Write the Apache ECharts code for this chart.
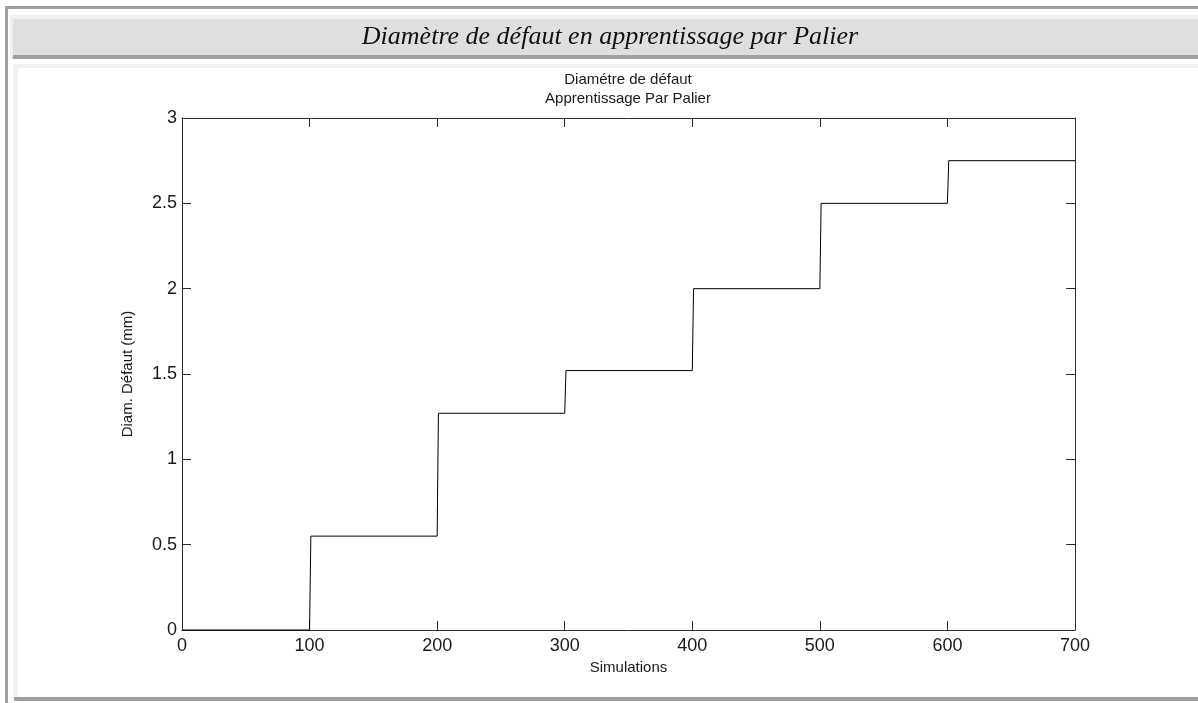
<!DOCTYPE html>
<html>
<head>
<meta charset="utf-8">
<script src="https://cdn.jsdelivr.net/npm/echarts@6/dist/echarts.min.js"></script>
<style>
  html, body { margin: 0; padding: 0; background: #ffffff; }
  #chart { width: 1198px; height: 703px; }
</style>
</head>
<body>
<div id="chart"></div>
<script>
// Simulation index at which each plateau begins, and the defect diameter (mm) of that plateau
const stepStarts = [0, 100, 200, 300, 400, 500, 600];
const stepLevels = [0, 0.55, 1.27, 1.52, 2.0, 2.5, 2.75];
const lastSimulation = 700;

// Axis ticks
const xTicks = [0, 100, 200, 300, 400, 500, 600, 700];
const yTicks = [0, 0.5, 1, 1.5, 2, 2.5, 3];

const headerTitle = 'Diamètre de défaut en apprentissage par Palier';
const plotTitle = 'Diamétre de défaut\nApprentissage Par Palier';
const xName = 'Simulations';
const yName = 'Diam. Défaut (mm)';

// Plateau polyline: each level holds from the simulation after its start up to the next start
const points = [];
stepStarts.forEach((s, i) => {
  const end = i + 1 < stepStarts.length ? stepStarts[i + 1] : lastSimulation;
  points.push([i === 0 ? s : s + 1, stepLevels[i]]);
  points.push([end, stepLevels[i]]);
});

const axisColor = '#2b2b2b';
const sans = '"Liberation Sans", Arial, sans-serif';
const labelFont = { color: '#1a1a1a', fontFamily: sans, fontSize: 18 };
const nameFont = { color: '#1a1a1a', fontFamily: sans, fontSize: 15 };

const xMin = xTicks[0], xMax = xTicks[xTicks.length - 1], xStep = xTicks[1] - xTicks[0];
const yMin = yTicks[0], yMax = yTicks[yTicks.length - 1], yStep = yTicks[1] - yTicks[0];

function boxAxis(extra) {
  return Object.assign({
    type: 'value',
    axisLine: { show: true, onZero: false, lineStyle: { color: axisColor, width: 1 } },
    axisTick: { show: true, inside: true, length: 9, lineStyle: { color: axisColor, width: 1 } },
    splitLine: { show: false }
  }, extra);
}

const chart = echarts.init(document.getElementById('chart'), null, { renderer: 'canvas' });
chart.setOption({
  animation: false,
  backgroundColor: '#ffffff',
  graphic: [
    // page frame
    { type: 'rect', shape: { x: 5, y: 6, width: 1193, height: 3 }, style: { fill: '#a0a0a0' }, silent: true },
    { type: 'rect', shape: { x: 5, y: 6, width: 3, height: 697 }, style: { fill: '#a0a0a0' }, silent: true },
    { type: 'rect', shape: { x: 10, y: 15, width: 1188, height: 4 }, style: { fill: '#f0f0f0' }, silent: true },
    { type: 'rect', shape: { x: 10, y: 15, width: 3, height: 44 }, style: { fill: '#f0f0f0' }, silent: true },
    { type: 'rect', shape: { x: 13, y: 19, width: 1185, height: 36 }, style: { fill: '#dfdfdf' }, silent: true },
    { type: 'rect', shape: { x: 13, y: 55, width: 1185, height: 4 }, style: { fill: '#a0a0a0' }, silent: true },
    { type: 'rect', shape: { x: 13, y: 64, width: 1185, height: 4 }, style: { fill: '#f0f0f0' }, silent: true },
    { type: 'rect', shape: { x: 13, y: 64, width: 5, height: 633 }, style: { fill: '#f0f0f0' }, silent: true },
    { type: 'rect', shape: { x: 14, y: 697, width: 1184, height: 4 }, style: { fill: '#a0a0a0' }, silent: true },
    // header caption
    {
      type: 'text', x: 610, y: 37, silent: true,
      style: {
        text: headerTitle, textAlign: 'center', textVerticalAlign: 'middle',
        fill: '#111111', font: 'italic 26px "Liberation Serif", "DejaVu Serif", serif'
      }
    },
    // plot title
    {
      type: 'text', x: 628, y: 89, silent: true,
      style: {
        text: plotTitle, textAlign: 'center', textVerticalAlign: 'middle', lineHeight: 19,
        fill: '#1a1a1a', font: '15px ' + sans
      }
    }
  ],
  grid: { left: 182, top: 118, width: 893, height: 512, containLabel: false },
  xAxis: [
    boxAxis({
      position: 'bottom', min: xMin, max: xMax, interval: xStep,
      name: xName, nameLocation: 'middle', nameGap: 30,
      nameTextStyle: nameFont,
      axisLabel: Object.assign({ margin: 7, showMinLabel: true, showMaxLabel: true }, labelFont)
    }),
    boxAxis({
      position: 'top', min: xMin, max: xMax, interval: xStep,
      axisLabel: { show: false }
    })
  ],
  yAxis: [
    boxAxis({
      position: 'left', min: yMin, max: yMax, interval: yStep,
      name: yName, nameLocation: 'middle', nameGap: 47,
      nameTextStyle: nameFont,
      axisLabel: Object.assign({ margin: 5, showMinLabel: true, showMaxLabel: true }, labelFont)
    }),
    boxAxis({
      position: 'right', min: yMin, max: yMax, interval: yStep,
      axisLabel: { show: false }
    })
  ],
  series: [
    {
      type: 'line',
      xAxisIndex: 0, yAxisIndex: 0,
      data: points,
      showSymbol: false,
      symbol: 'none',
      lineStyle: { color: '#000000', width: 1 },
      clip: false,
      z: 5
    }
  ]
});
</script>
</body>
</html>
